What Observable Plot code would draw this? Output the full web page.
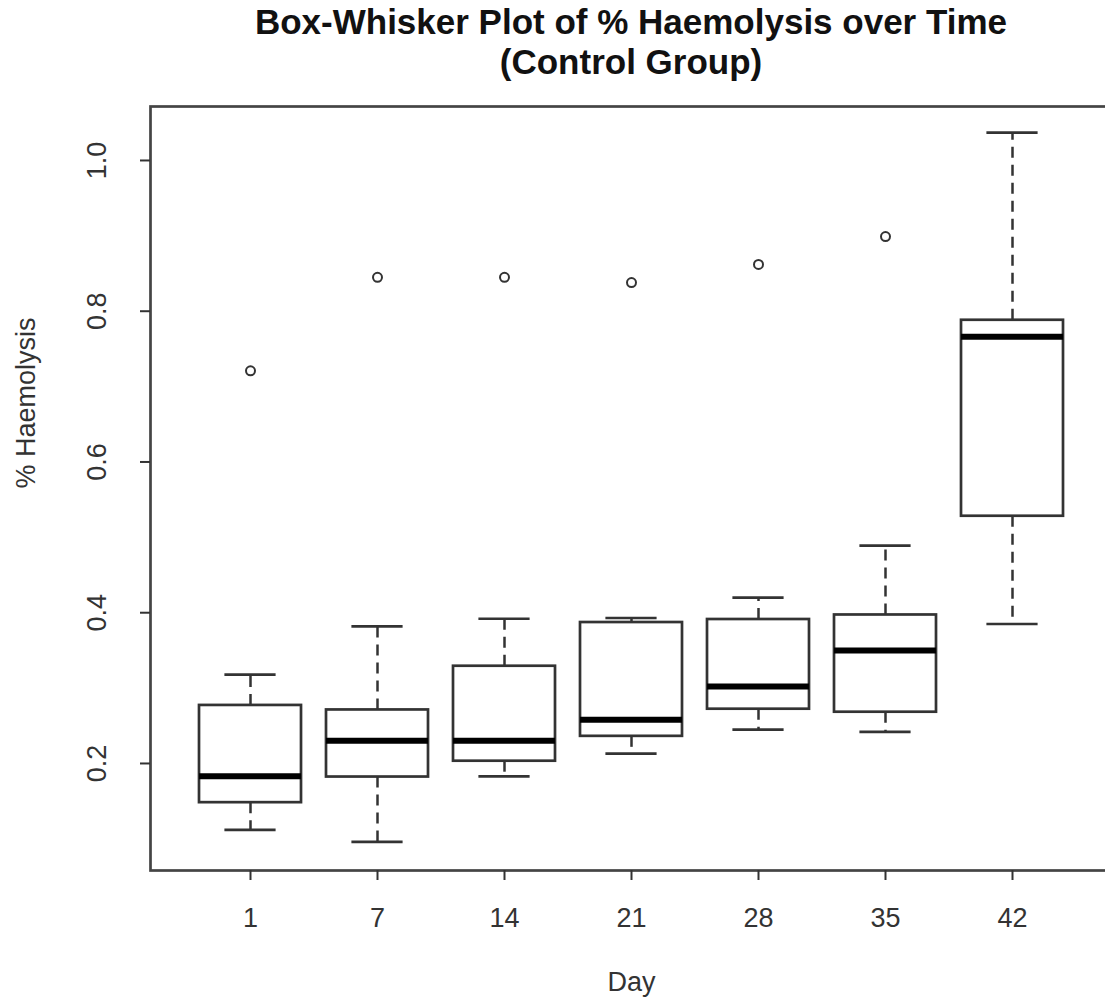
<!DOCTYPE html>
<html><head><meta charset="utf-8">
<script src="https://cdn.jsdelivr.net/npm/d3@7"></script>
<script src="https://cdn.jsdelivr.net/npm/@observablehq/plot@0.6"></script>
<style>
html,body{margin:0;padding:0;background:#fff;overflow:hidden;}
#title{margin-left:150px;width:962px;height:86px;box-sizing:border-box;padding-top:2px;text-align:center;font:bold 35px "Liberation Sans",Arial,sans-serif;line-height:40px;color:#111;white-space:nowrap;}
#chart svg{max-width:none !important;}
</style></head><body>
<div id="title">Box-Whisker Plot of % Haemolysis over Time<br>(Control Group)</div>
<div id="chart"></div>
<script>
const days = [1, 7, 14, 21, 28, 35, 42];
const lowerWhisker = [0.112, 0.096, 0.183, 0.213, 0.245, 0.242, 0.385];
const q1 = [0.148, 0.182, 0.203, 0.236, 0.272, 0.268, 0.528];
const median = [0.183, 0.230, 0.230, 0.258, 0.302, 0.350, 0.766];
const q3 = [0.277, 0.271, 0.329, 0.387, 0.391, 0.397, 0.788];
const upperWhisker = [0.318, 0.382, 0.392, 0.393, 0.420, 0.489, 1.037];
const outlierDays = [1, 7, 14, 21, 28, 35];
const outlierValues = [0.721, 0.845, 0.845, 0.838, 0.862, 0.899];
const yTicks = [0.2, 0.4, 0.6, 0.8, 1.0];
const xTitle = "Day";
const yTitle = "% Haemolysis";

const rows = days.map((d, i) => ({day: d, lo: lowerWhisker[i], q1: q1[i], med: median[i], q3: q3[i], hi: upperWhisker[i]}));
const outliers = outlierDays.map((d, i) => ({day: d, value: outlierValues[i]}));

const ink = "#333";
const chart = Plot.plot({
  width: 1116, height: 915,
  marginLeft: 150, marginRight: 4, marginTop: 20, marginBottom: 131,
  style: {fontFamily: '"Liberation Sans", Arial, sans-serif', background: "white", color: ink, maxWidth: "none"},
  x: {type: "band", domain: days, paddingInner: 0.2, paddingOuter: 0.382},
  y: {domain: [0.058, 1.0716]},
  marks: [
    Plot.ruleX(rows, {x: "day", y1: "q3", y2: "hi", stroke: ink, strokeWidth: 2.5, strokeDasharray: "11,7"}),
    Plot.ruleX(rows, {x: "day", y1: "q1", y2: "lo", stroke: ink, strokeWidth: 2.5, strokeDasharray: "11,7"}),
    Plot.tickY(rows, {x: "day", y: "hi", insetLeft: 25.4, insetRight: 25.4, stroke: ink, strokeWidth: 2.7}),
    Plot.tickY(rows, {x: "day", y: "lo", insetLeft: 25.4, insetRight: 25.4, stroke: ink, strokeWidth: 2.7}),
    Plot.barY(rows, {x: "day", y1: "q1", y2: "q3", fill: "white", stroke: ink, strokeWidth: 2.7}),
    Plot.tickY(rows, {x: "day", y: "med", stroke: "#000", strokeWidth: 6}),
    Plot.dot(outliers, {x: "day", y: "value", r: 4.5, stroke: ink, strokeWidth: 2, fill: "none"}),
    Plot.frame({stroke: "#444", strokeWidth: 2.7}),
    Plot.axisX(days, {anchor: "bottom", tickSize: 10, tickPadding: 27, fontSize: 27, label: null, stroke: ink, strokeWidth: 2}),
    Plot.axisY(yTicks, {anchor: "left", tickSize: 10, tickPadding: 35, tickRotate: -90, fontSize: 27, tickFormat: d3.format(".1f"), label: null, stroke: ink, strokeWidth: 2}),
    Plot.text([yTitle], {text: d => d, frameAnchor: "left", dx: -124, rotate: -90, fontSize: 27, fill: ink}),
    Plot.text([xTitle], {text: d => d, frameAnchor: "bottom", dy: 120, fontSize: 27, fill: ink})
  ]
});
document.getElementById("chart").appendChild(chart);
</script>
</body></html>
